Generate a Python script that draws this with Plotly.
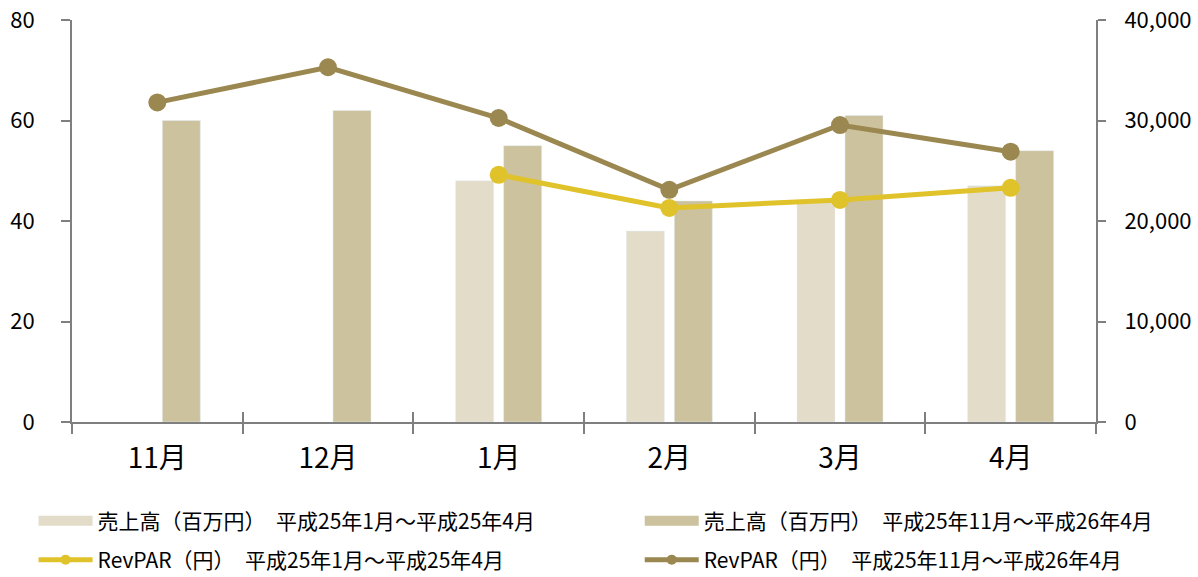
import plotly.graph_objects as go

# データ
months = ['11月', '12月', '1月', '2月', '3月', '4月']
sales_prev = [None, None, 48, 38, 44, 47]       # 売上高 平成25年1月～4月
sales_curr = [60, 62, 55, 44, 61, 54]           # 売上高 平成25年11月～平成26年4月
revpar_prev = [None, None, 24600, 21300, 22100, 23300]
revpar_curr = [31800, 35300, 30250, 23100, 29550, 26900]

name_sales_prev = '売上高（百万円）　平成25年1月～平成25年4月'
name_sales_curr = '売上高（百万円）　平成25年11月～平成26年4月'
name_rev_prev = 'RevPAR（円）　平成25年1月～平成25年4月'
name_rev_curr = 'RevPAR（円）　平成25年11月～平成26年4月'

FONT = 'Noto Sans CJK JP'
AXIS = '#7f7f7f'
C_LIGHT = '#E3DCC8'
C_BAR = '#CCC29E'
C_YEL = '#E0C22A'
C_DARK = '#9B8850'

fig = go.Figure()

fig.add_trace(go.Bar(x=months, y=sales_prev, marker_color=C_LIGHT, showlegend=False))
fig.add_trace(go.Bar(x=months, y=sales_curr, marker_color=C_BAR, showlegend=False))
fig.add_trace(go.Scatter(
    x=months, y=revpar_curr, yaxis='y2', showlegend=False,
    mode='lines+markers', line=dict(color=C_DARK, width=5),
    marker=dict(size=18, color=C_DARK)
))
fig.add_trace(go.Scatter(
    x=months, y=revpar_prev, yaxis='y2', showlegend=False,
    mode='lines+markers', line=dict(color=C_YEL, width=5),
    marker=dict(size=18, color=C_YEL)
))

# 凡例だけの系列 (横長の色見本にするため)
for name, color, lg, lw, ms in [
    (name_sales_prev, C_LIGHT, 'legend', 15, 0),
    (name_sales_curr, C_BAR, 'legend2', 15, 0),
    (name_rev_prev, C_YEL, 'legend3', 5, 10),
    (name_rev_curr, C_DARK, 'legend4', 5, 10),
]:
    fig.add_trace(go.Scatter(
        x=[None], y=[None], name=name, legend=lg, showlegend=True,
        mode='lines+markers' if ms else 'lines',
        line=dict(color=color, width=lw),
        marker=dict(size=ms, color=color),
    ))

# x軸の内側目盛り用
fig.add_trace(go.Scatter(x=[None], y=[None], xaxis='x2', showlegend=False))

leg = dict(font=dict(family=FONT, size=21, color='#000'),
           orientation='h', itemwidth=54,
           bgcolor='rgba(0,0,0,0)', xanchor='left', yanchor='middle',
           xref='container', yref='container')

fig.update_layout(
    width=1198, height=577,
    plot_bgcolor='white', paper_bgcolor='white',
    font=dict(family=FONT, color='#000'),
    margin=dict(l=72, r=102, t=20, b=155, autoexpand=False),
    showlegend=True,
    barmode='group', bargap=0.4375, bargroupgap=0.208,
    xaxis=dict(
        showline=True, linecolor=AXIS, linewidth=2,
        ticks='outside', tickson='boundaries', ticklen=10,
        tickcolor=AXIS, tickwidth=2, tickangle=0,
        tickfont=dict(size=28), ticklabelstandoff=10, showgrid=False,
    ),
    xaxis2=dict(
        overlaying='x', range=[-0.5, len(months) - 0.5],
        tickvals=[i - 0.5 for i in range(len(months) + 1)],
        ticks='inside', ticklen=10, tickcolor=AXIS, tickwidth=2,
        showticklabels=False, showgrid=False, zeroline=False,
        showline=False, anchor='y',
    ),
    yaxis=dict(
        range=[0, 80], dtick=20, showgrid=False, zeroline=False,
        showline=True, linecolor=AXIS, linewidth=2,
        ticks='outside', ticklen=9, tickcolor=AXIS, tickwidth=2,
        tickfont=dict(size=22), ticklabelstandoff=22,
    ),
    yaxis2=dict(
        range=[0, 40000], dtick=10000, overlaying='y', side='right',
        tickformat=',', showgrid=False, zeroline=False,
        showline=True, linecolor=AXIS, linewidth=2,
        ticks='outside', ticklen=8, tickcolor=AXIS, tickwidth=2,
        tickfont=dict(size=22), ticklabelstandoff=14,
    ),
    legend=dict(leg, x=0.028, y=(577 - 521) / 577),
    legend2=dict(leg, x=0.534, y=(577 - 521) / 577),
    legend3=dict(leg, x=0.028, y=(577 - 560) / 577),
    legend4=dict(leg, x=0.534, y=(577 - 560) / 577),
)

fig.write_html('out.html', config={'displayModeBar': False},
               post_script="document.body.style.margin='0';")
